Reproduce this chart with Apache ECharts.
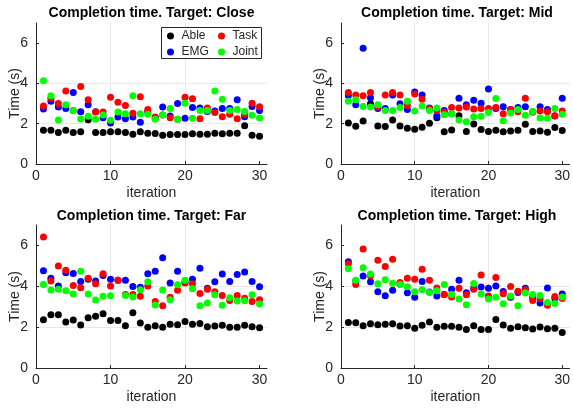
<!DOCTYPE html>
<html>
<head>
<meta charset="utf-8">
<script src="https://cdn.jsdelivr.net/npm/echarts@6/dist/echarts.min.js"></script>
<style>html,body{margin:0;padding:0;background:#fff}#c{width:573px;height:410px}</style>
</head>
<body>
<div id="c"></div>
<script>
const iterations = [1,2,3,4,5,6,7,8,9,10,11,12,13,14,15,16,17,18,19,20,21,22,23,24,25,26,27,28,29,30];
const seriesNames = ['Able','EMG','Task','Joint'];
const seriesColors = ['#000000','#0000ff','#ff0000','#00ff00'];
const plotTitles = ['Completion time. Target: Close','Completion time. Target: Mid','Completion time. Target: Far','Completion time. Target: High'];
const xTicks = [0,10,20,30];
const yTicks = [0,2,4,6];

// Target: Close
const closeAble  = [1.68,1.68,1.56,1.68,1.56,1.60,2.20,1.56,1.56,1.60,1.60,1.56,1.48,1.60,1.53,1.51,1.43,1.46,1.46,1.46,1.50,1.48,1.48,1.53,1.50,1.53,1.53,1.90,1.43,1.38];
const closeEMG   = [2.73,3.12,2.83,2.75,3.55,2.60,2.94,2.60,2.30,2.04,2.33,2.25,2.33,2.07,2.60,2.30,2.83,2.38,3.00,2.27,2.80,2.78,2.61,2.63,2.76,2.75,3.19,2.35,2.86,2.65];
const closeTask  = [2.88,3.27,3.00,3.63,2.66,3.85,3.19,2.58,2.58,3.32,3.07,2.91,2.52,3.34,2.71,2.33,2.43,2.30,2.22,3.32,3.24,2.25,2.78,2.56,2.35,2.47,2.25,2.47,3.01,2.84];
const closeJoint = [4.13,3.39,2.19,2.94,2.66,2.24,2.37,2.22,2.43,2.17,2.58,2.50,3.39,2.50,2.47,2.22,2.43,2.76,2.22,3.02,2.27,2.66,2.66,3.62,3.22,2.65,2.70,2.61,2.42,2.28];

// Target: Mid
const midAble  = [2.04,1.87,2.14,2.99,1.89,1.86,2.19,1.89,1.78,1.73,1.82,2.02,2.30,1.60,1.69,2.40,1.61,1.99,1.71,1.61,1.68,1.60,1.64,1.68,1.97,1.61,1.64,1.58,1.81,1.66];
const midEMG   = [3.40,2.94,5.75,3.29,2.75,2.75,3.42,2.99,2.71,3.58,3.42,2.78,2.38,2.66,2.50,3.27,2.94,3.16,3.02,3.72,2.75,2.84,2.70,2.80,2.84,2.58,2.84,2.71,2.38,3.27];
const midTask  = [3.55,3.42,3.39,3.55,2.83,3.42,3.55,3.42,2.91,3.47,3.21,2.75,2.65,2.58,2.81,2.78,2.83,2.73,2.76,2.75,2.81,2.50,2.70,2.60,3.27,2.60,2.63,2.60,2.40,2.63];
const midJoint = [3.12,3.19,2.86,2.83,2.94,2.65,2.65,2.80,3.12,2.63,2.88,2.66,2.78,2.45,2.50,2.19,2.10,2.35,2.37,2.56,3.25,2.15,2.53,2.71,2.42,2.61,2.28,2.27,2.75,2.47];

// Target: Far
const farAble  = [2.36,2.61,2.61,2.25,2.35,2.10,2.46,2.53,2.66,2.32,2.33,2.07,2.71,2.20,2.00,2.07,1.99,2.14,2.12,2.28,2.14,2.18,2.02,2.05,2.09,2.00,1.99,2.09,2.02,1.97];
const farEMG   = [4.76,4.39,4.01,4.66,4.63,4.24,4.35,4.26,4.53,4.34,4.30,4.30,3.99,3.95,4.61,4.74,5.40,4.16,4.73,4.20,4.35,4.88,3.90,4.22,4.60,4.24,4.58,4.70,4.24,3.98];
const farTask  = [6.41,4.26,4.99,4.78,4.04,3.93,4.39,4.13,4.61,4.01,4.30,3.60,3.60,3.51,4.01,3.26,3.05,3.46,3.80,4.16,4.13,3.65,3.86,3.73,3.55,3.31,3.55,3.41,3.26,3.34];
const farJoint = [4.09,3.82,3.86,3.78,3.62,4.73,3.62,3.33,3.51,3.54,null,3.55,3.47,3.83,4.22,3.08,3.82,3.34,4.08,4.29,3.88,3.05,3.18,3.59,3.07,3.44,3.28,3.29,3.59,3.13];

// Target: High
const highAble  = [2.23,2.22,2.07,2.17,2.12,2.14,2.17,2.05,2.07,1.94,2.09,2.25,1.99,2.04,2.04,1.99,1.88,2.07,1.88,1.89,2.38,2.10,1.94,2.02,1.97,1.91,2.01,1.92,1.94,1.74];
const highEMG   = [5.20,4.27,4.50,4.22,3.73,3.54,3.80,4.11,3.68,3.46,4.24,3.72,3.52,3.60,3.86,4.29,3.68,3.90,3.96,3.90,4.01,3.75,3.46,3.70,3.90,3.46,3.18,3.91,3.42,3.62];
const highTask  = [5.10,4.09,5.82,4.52,5.28,4.97,5.32,4.19,4.39,4.34,4.83,4.29,3.91,3.60,3.47,3.90,3.59,3.86,4.55,3.52,4.43,3.64,3.99,3.76,3.83,3.31,3.39,3.07,3.50,3.40];
const highJoint = [4.86,4.29,4.91,4.60,4.13,4.32,4.15,4.09,3.98,3.73,3.83,3.70,3.78,4.09,3.60,3.38,3.10,4.14,3.62,3.38,3.46,3.15,3.52,3.05,3.67,3.60,3.55,3.21,3.16,3.47];

const plotData = [
  [closeAble, closeEMG, closeTask, closeJoint],
  [midAble, midEMG, midTask, midJoint],
  [farAble, farEMG, farTask, farJoint],
  [highAble, highEMG, highTask, highJoint]
];

const FONT = 'Liberation Sans, Arial, Helvetica, sans-serif';
const AX = '#262626';
const grids = [
  {left:36, top:23, width:231, height:141},
  {left:341, top:23, width:232, height:141},
  {left:36, top:225, width:231, height:143},
  {left:341, top:225, width:232, height:143}
];
const titleTops = [1, 1, 204, 204];

const xAxes = [], yAxes = [], titles = [], series = [];
grids.forEach((g, gi) => {
  titles.push({
    text: plotTitles[gi], left: g.left + g.width/2 - 5, top: titleTops[gi], textAlign: 'center',
    textStyle: {fontFamily: FONT, fontSize: 14, fontWeight: 'bold', color: '#000'}
  });
  xAxes.push({
    gridIndex: gi, type: 'value', min: 0, max: 31, interval: 10,
    name: 'iteration', nameLocation: 'middle', nameGap: 22, nameMoveOverlap: false,
    nameTextStyle: {fontFamily: FONT, fontSize: 14, color: AX},
    axisLine: {show: true, onZero: false, lineStyle: {color: AX, width: 1}},
    axisTick: {show: true, inside: true, length: 3, customValues: xTicks, lineStyle: {color: AX}},
    axisLabel: {fontFamily: FONT, fontSize: 14, color: AX, margin: 5, customValues: xTicks},
    splitLine: {show: true, showMinLine: false, showMaxLine: false, lineStyle: {color: '#e8e8e8', width: 1}}
  });
  yAxes.push({
    gridIndex: gi, type: 'value', min: 0, max: 7, interval: 2,
    name: 'Time (s)', nameLocation: 'middle', nameGap: 14, nameRotate: 90, nameMoveOverlap: false,
    nameTextStyle: {fontFamily: FONT, fontSize: 14, color: AX},
    axisLine: {show: true, onZero: false, lineStyle: {color: AX, width: 1}},
    axisTick: {show: true, inside: true, length: 3, customValues: yTicks, lineStyle: {color: AX}},
    axisLabel: {fontFamily: FONT, fontSize: 14, color: AX, margin: 8, customValues: yTicks},
    splitLine: {show: true, showMinLine: false, showMaxLine: false, lineStyle: {color: '#e8e8e8', width: 1}}
  });
  plotData[gi].forEach((vals, si) => {
    series.push({
      type: 'scatter', name: seriesNames[si], xAxisIndex: gi, yAxisIndex: gi,
      symbol: 'circle', symbolSize: 7,
      itemStyle: {color: seriesColors[si], opacity: 1},
      emphasis: {disabled: true},
      data: vals.map((v, i) => [iterations[i], v])
    });
  });
});

const legendCommon = {
  orient: 'vertical', top: 25, itemWidth: 12, itemHeight: 7, itemGap: 4, icon: 'circle',
  textStyle: {fontFamily: FONT, fontSize: 12, color: AX, padding: 0},
  selectedMode: false, z: 10
};

const chart = echarts.init(document.getElementById('c'), null, {renderer: 'canvas'});
chart.setOption({
  animation: false,
  backgroundColor: '#fff',
  title: titles,
  grid: grids,
  xAxis: xAxes,
  yAxis: yAxes,
  legend: [
    Object.assign({}, legendCommon, {data: ['Able','EMG'], left: 162}),
    Object.assign({}, legendCommon, {data: ['Task','Joint'], left: 213})
  ],
  graphic: [{
    type: 'rect', z: 9, shape: {x: 161.5, y: 27.5, width: 100, height: 31},
    style: {fill: '#fff', stroke: AX, lineWidth: 1}
  }],
  series: series
});
</script>
</body>
</html>
